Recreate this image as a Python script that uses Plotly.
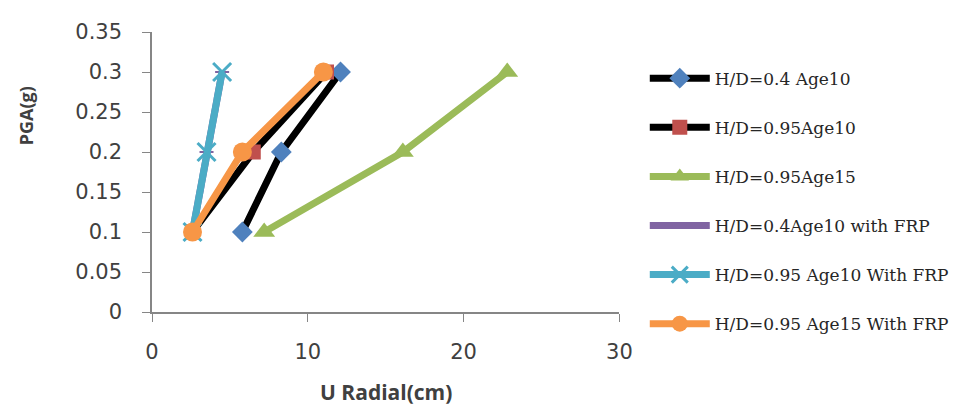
import plotly.graph_objects as go

pga = [0.1, 0.2, 0.3]
series_names = [
    "H/D=0.4 Age10",
    "H/D=0.95Age10",
    "H/D=0.95Age15",
    "H/D=0.4Age10 with FRP",
    "H/D=0.95 Age10 With FRP",
    "H/D=0.95 Age15 With FRP",
]
u_hd04_age10 = [5.8, 8.3, 12.1]
u_hd095_age10 = [2.6, 6.5, 11.2]
u_hd095_age15 = [7.2, 16.1, 22.8]
u_hd04_age10_frp = [2.6, 3.5, 4.5]
u_hd095_age10_frp = [2.6, 3.5, 4.5]
u_hd095_age15_frp = [2.6, 5.8, 11.0]

x_ticks = [0, 10, 20, 30]
y_ticks = [0, 0.05, 0.1, 0.15, 0.2, 0.25, 0.3, 0.35]
y_tick_labels = ["0", "0.05", "0.1", "0.15", "0.2", "0.25", "0.3", "0.35"]

styles = [
    dict(line_color="black", marker=dict(symbol="diamond", size=16, color="#4F81BD")),
    dict(line_color="black", marker=dict(symbol="square", size=15, color="#C0504D")),
    dict(line_color="#9BBB59", marker=dict(symbol="triangle-up", size=19, color="#9BBB59")),
    dict(line_color="#8064A2", marker=dict(symbol="line-ew-open", size=10, color="#8064A2", line=dict(width=2, color="#8064A2"))),
    dict(line_color="#4BACC6", marker=dict(symbol="x-thin-open", size=18, color="#4BACC6", line=dict(width=3, color="#4BACC6"))),
    dict(line_color="#F79646", marker=dict(symbol="circle", size=19, color="#F79646")),
]
data = [u_hd04_age10, u_hd095_age10, u_hd095_age15, u_hd04_age10_frp, u_hd095_age10_frp, u_hd095_age15_frp]

fig = go.Figure()
for i, (name, xs, st) in enumerate(zip(series_names, data, styles)):
    fig.add_trace(go.Scatter(
        x=xs, y=pga, mode="lines+markers", name=name,
        line=dict(color=st["line_color"], width=7),
        marker=st["marker"], legendgroup=f"g{i}",
    ))

tick_font = dict(family="DejaVu Sans", size=21, color="#404040")
fig.update_layout(
    width=949, height=399,
    margin=dict(l=144, r=337, t=16, b=95),
    paper_bgcolor="white", plot_bgcolor="white",
    showlegend=True,
    legend=dict(
        xref="container", yref="container", x=0.671, y=0.868, xanchor="left", yanchor="top",
        font=dict(family="DejaVu Serif", size=17, color="#262626"),
        itemwidth=60, tracegroupgap=24, bgcolor="rgba(0,0,0,0)", maxheight=400,
    ),
    xaxis=dict(
        range=[0, 30], tickvals=x_ticks, showgrid=False, zeroline=False,
        showline=True, linecolor="#868686", linewidth=1.5,
        ticks="outside", ticklen=8, tickcolor="#868686",
        tickfont=tick_font, ticklabelstandoff=12,
    ),
    yaxis=dict(
        range=[0, 0.35], tickvals=y_ticks, ticktext=y_tick_labels, showgrid=False, zeroline=False,
        showline=True, linecolor="#868686", linewidth=1.5,
        ticks="outside", ticklen=8, tickcolor="#868686",
        tickfont=tick_font, ticklabelstandoff=16,
    ),
    annotations=[
        dict(text="<b>PGA(g)</b>", xref="paper", yref="paper", x=-0.269, y=0.70,
             xanchor="center", yanchor="middle", textangle=-90, showarrow=False,
             font=dict(family="Open Sans", size=18, color="#404040")),
        dict(text="<b>U Radial(cm)</b>", xref="paper", yref="paper", x=0.5, y=-0.285,
             xanchor="center", yanchor="middle", showarrow=False,
             font=dict(family="Open Sans", size=21, color="#404040")),
    ],
)
fig.write_html("out.html")
